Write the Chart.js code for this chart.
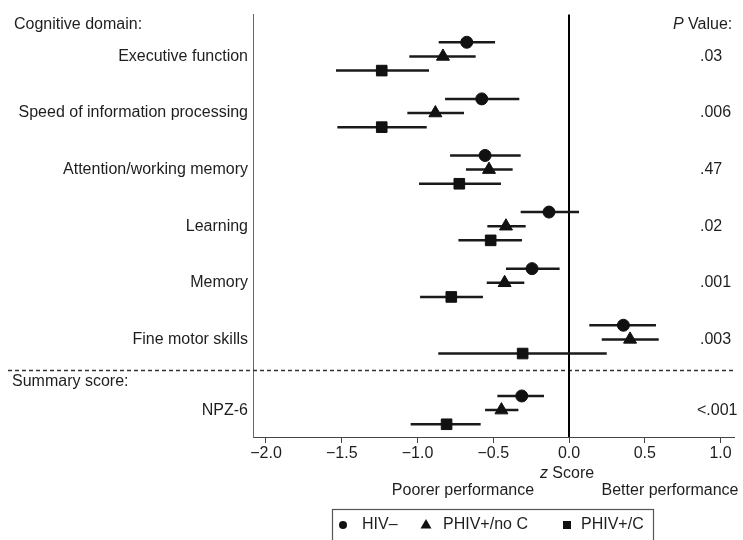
<!DOCTYPE html>
<html>
<head>
<meta charset="UTF-8">
<title>Cognitive domain z scores</title>
<script src="https://cdn.jsdelivr.net/npm/chart.js@4.4.1/dist/chart.umd.min.js"></script>
<style>
    body { margin: 0; background: #fff; }
    #wrap { width: 743px; height: 540px; position: relative; }
</style>
</head>
<body>
<div id="wrap"><canvas id="forest"></canvas></div>
<script>
// Forest plot data (z scores with 95% CI)
const domains = ['Executive function', 'Speed of information processing', 'Attention/working memory',
    'Learning', 'Memory', 'Fine motor skills', 'NPZ-6'];
const rowPos = [1, 2, 3, 4, 5, 6, 7.25];
const pValues = ['.03', '.006', '.47', '.02', '.001', '.003', '<.001'];
const xTicks = [-2, -1.5, -1, -0.5, 0, 0.5, 1];

const hivNegMean = [-0.675, -0.576, -0.554, -0.132, -0.244, 0.359, -0.312];
const hivNegLo   = [-0.860, -0.818, -0.785, -0.319, -0.416, 0.134, -0.473];
const hivNegHi   = [-0.488, -0.328, -0.319, 0.066, -0.062, 0.574, -0.165];

const noCMean = [-0.832, -0.882, -0.528, -0.416, -0.425, 0.403, -0.446];
const noCLo   = [-1.054, -1.067, -0.680, -0.539, -0.543, 0.216, -0.554];
const noCHi   = [-0.616, -0.693, -0.372, -0.286, -0.295, 0.592, -0.334];

const withCMean = [-1.236, -1.236, -0.724, -0.517, -0.777, -0.306, -0.808];
const withCLo   = [-1.538, -1.529, -0.990, -0.730, -0.983, -0.863, -1.045];
const withCHi   = [-0.924, -0.939, -0.449, -0.310, -0.568, 0.249, -0.583];

const FONT = '"Liberation Sans", Arial, Helvetica, sans-serif';
const INK = '#1e1e1e';

const series = [
    { label: 'HIV\u2013', style: 'circle', radius: 6, offset: -0.25, mean: hivNegMean, lo: hivNegLo, hi: hivNegHi },
    { label: 'PHIV+/no C', style: 'triangle', radius: 7.5, offset: 0, mean: noCMean, lo: noCLo, hi: noCHi },
    { label: 'PHIV+/C', style: 'rect', radius: 7.5, offset: 0.25, mean: withCMean, lo: withCLo, hi: withCHi }
];

function fmtTick(v) {
    return v < 0 ? '\u2212' + Math.abs(v).toFixed(1) : v.toFixed(1);
}

// error bars, reference lines and surrounding text
const forestDecor = {
    id: 'forestDecor',
    beforeDatasetsDraw(chart) {
        const { ctx, chartArea: a, scales: { x, y } } = chart;
        ctx.save();
        // dashed separator between domains and summary
        const yDash = y.getPixelForValue(6.55);
        ctx.strokeStyle = '#333';
        ctx.lineWidth = 1.5;
        ctx.setLineDash([4, 3]);
        ctx.beginPath();
        ctx.moveTo(8, yDash);
        ctx.lineTo(a.right, yDash);
        ctx.stroke();
        ctx.setLineDash([]);

        // zero line
        const x0 = x.getPixelForValue(0);
        ctx.strokeStyle = '#000';
        ctx.lineWidth = 2;
        ctx.beginPath();
        ctx.moveTo(x0, a.top);
        ctx.lineTo(x0, a.bottom);
        ctx.stroke();

        // confidence intervals
        ctx.strokeStyle = '#1a1a1a';
        ctx.lineWidth = 2.5;
        series.forEach(s => {
            rowPos.forEach((r, i) => {
                const py = y.getPixelForValue(r + s.offset);
                ctx.beginPath();
                ctx.moveTo(x.getPixelForValue(s.lo[i]), py);
                ctx.lineTo(x.getPixelForValue(s.hi[i]), py);
                ctx.stroke();
            });
        });
        ctx.restore();
    },
    afterDraw(chart) {
        const { ctx, scales: { x, y } } = chart;
        ctx.save();
        ctx.fillStyle = INK;
        ctx.textBaseline = 'middle';
        ctx.font = '16px ' + FONT;

        // headings
        ctx.textAlign = 'left';
        ctx.fillText('Cognitive domain:', 14, 25);
        ctx.fillText('Summary score:', 12, 382);

        // P values column
        ctx.font = 'italic 16px ' + FONT;
        ctx.fillText('P', 673, 25);
        const pw = ctx.measureText('P ').width;
        ctx.font = '16px ' + FONT;
        ctx.fillText('Value:', 673 + pw, 25);
        rowPos.forEach((r, i) => {
            const txt = pValues[i];
            const px = txt.startsWith('<') ? 697 : 700;
            ctx.fillText(txt, px, y.getPixelForValue(r));
        });

        // x axis title
        const x0 = x.getPixelForValue(0);
        ctx.font = 'italic 16px ' + FONT;
        const zw = ctx.measureText('z ').width;
        ctx.font = '16px ' + FONT;
        const sw = ctx.measureText('Score').width;
        const startX = x0 - 2 - (zw + sw) / 2;
        ctx.font = 'italic 16px ' + FONT;
        ctx.fillText('z', startX, 474);
        ctx.font = '16px ' + FONT;
        ctx.fillText('Score', startX + zw, 474);

        ctx.textAlign = 'center';
        ctx.fillText('Poorer performance', 463, 491);
        ctx.fillText('Better performance', 670, 491);

        // legend box
        ctx.strokeStyle = '#555';
        ctx.lineWidth = 1.2;
        ctx.strokeRect(332.5, 509.5, 321, 40);
        ctx.fillStyle = '#111';
        const ly = 525;
        ctx.beginPath();
        ctx.arc(343, ly, 4, 0, Math.PI * 2);
        ctx.fill();
        ctx.beginPath();
        ctx.moveTo(426, ly - 6);
        ctx.lineTo(431.5, ly + 3.5);
        ctx.lineTo(420.5, ly + 3.5);
        ctx.closePath();
        ctx.fill();
        ctx.fillRect(563, ly - 4, 8, 8);
        ctx.fillStyle = INK;
        ctx.textAlign = 'left';
        ctx.fillText(series[0].label, 362, ly);
        ctx.fillText(series[1].label, 443, ly);
        ctx.fillText(series[2].label, 581, ly);
        ctx.restore();
    }
};

const datasets = series.map(s => ({
    label: s.label,
    data: rowPos.map((r, i) => ({ x: s.mean[i], y: r + s.offset })),
    pointStyle: s.style,
    pointRadius: s.radius,
    pointHoverRadius: s.radius,
    backgroundColor: '#111',
    borderColor: '#111',
    borderWidth: 1
}));

new Chart(document.getElementById('forest'), {
    type: 'scatter',
    data: { datasets },
    options: {
        responsive: true,
        maintainAspectRatio: false,
        animation: false,
        layout: { padding: { top: 13, right: 8, left: 0, bottom: 0 } },
        plugins: {
            legend: { display: false },
            tooltip: { enabled: false }
        },
        scales: {
            x: {
                type: 'linear',
                min: -2.0857,
                max: 1.0923,
                afterBuildTicks: s => { s.ticks = xTicks.map(v => ({ value: v })); },
                afterFit: s => { s.height = 103; },
                grid: { drawOnChartArea: false, drawTicks: true, tickLength: 6, color: '#444', lineWidth: 1 },
                border: { color: '#444', width: 1 },
                ticks: {
                    color: INK,
                    font: { family: FONT, size: 16 },
                    padding: 1,
                    maxRotation: 0,
                    autoSkip: false,
                    callback: v => fmtTick(v)
                }
            },
            y: {
                type: 'linear',
                reverse: true,
                min: 0.2606,
                max: 7.725,
                afterBuildTicks: s => { s.ticks = rowPos.map(v => ({ value: v })); },
                afterFit: s => { s.width = 253; },
                grid: { display: false, drawTicks: false },
                border: { color: '#666', width: 1 },
                ticks: {
                    color: INK,
                    font: { family: FONT, size: 16 },
                    padding: 5,
                    autoSkip: false,
                    callback: (v, i) => domains[i]
                }
            }
        }
    },
    plugins: [forestDecor]
});
</script>
</body>
</html>
